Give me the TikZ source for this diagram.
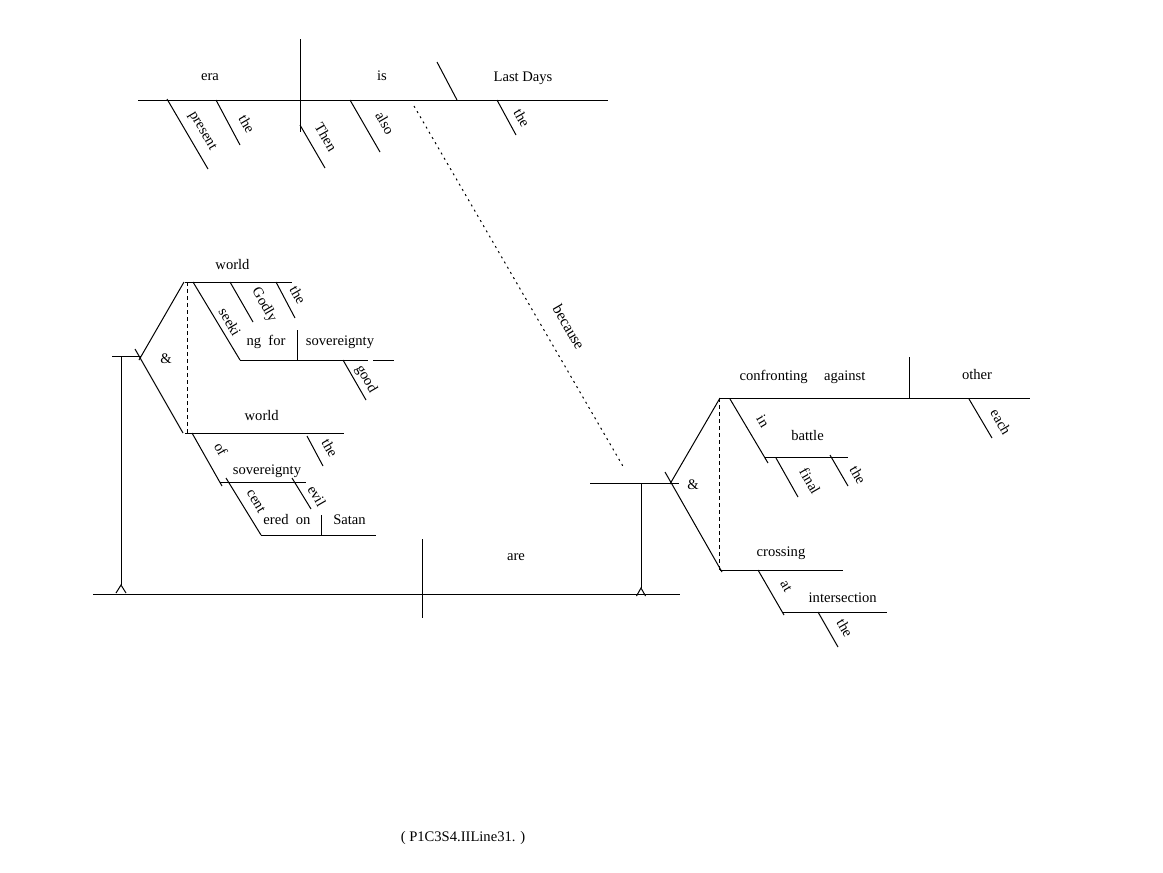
\documentclass[tikz,border=0pt]{standalone}
\usepackage{fontspec}
\setmainfont{Liberation Serif}
\begin{document}
\begin{tikzpicture}[x=1pt,y=-1pt,line width=1pt,
  every node/.style={font=\fontsize{14.6}{17}\selectfont,inner sep=0pt},
  wd/.style={anchor=base},
  rt/.style={rotate=-60},
  ln/.style={draw=black,line width=1pt},
  dsh/.style={draw=black,line width=1pt,dash pattern=on 4pt off 3pt},
  dtt/.style={draw=black,line width=1pt,dash pattern=on 2pt off 4pt}]
\fill[white] (0,0) rectangle (1163,873);
\useasboundingbox (0,0) rectangle (1163,873);

% ---------- top clause ----------
\draw[ln] (138,100) -- (608,100);
\draw[ln] (300,39) -- (300,132);
\draw[ln] (437,62) -- (457,100);
\draw[ln] (167,99) -- (208,169);
\draw[ln] (216,100) -- (240,145);
\draw[ln] (300,125) -- (325,168);
\draw[ln] (350,100) -- (380,152);
\draw[ln] (497,100) -- (516,135);
\node[wd] (era) at (210,80) {era};
\node[wd] (is) at (382,80) {is};
\node[wd] (lastdays) at (523,81) {Last Days};
\node[rt] (present) at (202,131) {present};
\node[rt] (the1) at (247,124) {the};
\node[rt] (then) at (326,137) {Then};
\node[rt] (also) at (385,123) {also};
\node[rt] (the2) at (522,118) {the};

% because
\coordinate (bcA) at (414,106);
\coordinate (bcB) at (624,468);
\draw[dtt] (bcA) -- (bcB);
\node[rt,font=\fontsize{15.5}{17}\selectfont] (because) at (569,327) {because};

% ---------- left compound subject ----------
\draw[ln] (112,356) -- (141,356);
\draw[ln] (121,356) -- (121,585);
\draw[ln] (116,593) -- (121,585) -- (126,593);
\draw[ln] (139,360) -- (184,282);
\draw[ln] (135,349) -- (183,433);
\draw[dsh] (187,282) -- (187,433);
\node (amp1) at (166,359) {\&};
% upper world
\draw[ln] (185,282) -- (292,282);
\draw[ln] (230,282) -- (253,322);
\draw[ln] (276,282) -- (295,318);
\draw[ln] (193,282) -- (240,360);
\draw[ln] (240,360) -- (368,360);
\draw[ln] (373,360) -- (394,360);
\draw[ln] (297,330) -- (297,360);
\draw[ln] (343,360) -- (366,400);
\node[wd] (world1) at (232.5,269) {world};
\node[rt] (godly) at (264,305) {Godly};
\node[rt] (the3) at (298,295) {the};
\node[rt] (seeki) at (230,322) {seeki};
\node[wd] (ngfor) at (266,345.7) {ng\ \ for};
\node[wd] (sov1) at (340,345.7) {sovereignty};
\node[rt] (good) at (366,379) {good};
% lower world
\draw[ln] (185,433) -- (344,433);
\draw[ln] (307,436) -- (323,466);
\draw[ln] (192,433) -- (222,486);
\draw[ln] (220,482) -- (306,482);
\draw[ln] (292,478) -- (311,509);
\draw[ln] (226,478) -- (261,535);
\draw[ln] (261,535) -- (376,535);
\draw[ln] (321,515) -- (321,535);
\node[wd] (world2) at (261.7,420) {world};
\node[rt] (the4) at (330,448) {the};
\node[rt] (of) at (221,449) {of};
\node[wd] (sov2) at (267,474) {sovereignty};
\node[rt] (evil) at (317,496) {evil};
\node[rt] (cent) at (256,501) {cent};
\node[wd] (eredon) at (287,524.7) {ered\ \ on};
\node[wd] (satan) at (349.5,524.7) {Satan};

% ---------- main line ----------
\draw[ln] (93,594) -- (680,594);
\draw[ln] (422,539) -- (422,618);
\node[wd] (are) at (516,560.5) {are};

% ---------- right compound predicate ----------
\draw[ln] (590,483.5) -- (679,483.5);
\draw[ln] (641,483.5) -- (641,588);
\draw[ln] (636.5,596) -- (641,588) -- (645.5,596);
\draw[ln] (670,484) -- (720,398);
\draw[ln] (665,472) -- (722,572);
\draw[dsh] (719,398) -- (719,570);
\node (amp2) at (693,485) {\&};
% upper
\draw[ln] (719,398) -- (1030,398);
\draw[ln] (909,357) -- (909,398);
\draw[ln] (969,399) -- (992,438);
\draw[ln] (730,399) -- (768,463);
\draw[ln] (765,457) -- (848,457);
\draw[ln] (776,458) -- (798,497);
\draw[ln] (830,455) -- (848,486);
\node[wd] (confronting) at (773.7,380.7) {confronting};
\node[wd] (against) at (844.7,380.7) {against};
\node[wd] (other) at (977,379) {other};
\node[rt] (each) at (1001,422) {each};
\node[rt] (in) at (763,421) {in};
\node[wd] (battle) at (807.5,440.7) {battle};
\node[rt] (final) at (810,481) {final};
\node[rt] (the5) at (858,475) {the};
% lower
\draw[ln] (720,570) -- (843,570);
\draw[ln] (758,570) -- (784,615);
\draw[ln] (783,612) -- (887,612);
\draw[ln] (818,612) -- (838,647);
\node[wd] (crossing) at (781,556.7) {crossing};
\node[rt] (at) at (786,586) {at};
\node[wd] (intersection) at (842.7,602.3) {intersection};
\node[rt] (the6) at (845,628) {the};

% caption
\node[wd] (caption) at (463,841) {( P1C3S4.IILine31. )};
\end{tikzpicture}
\end{document}
